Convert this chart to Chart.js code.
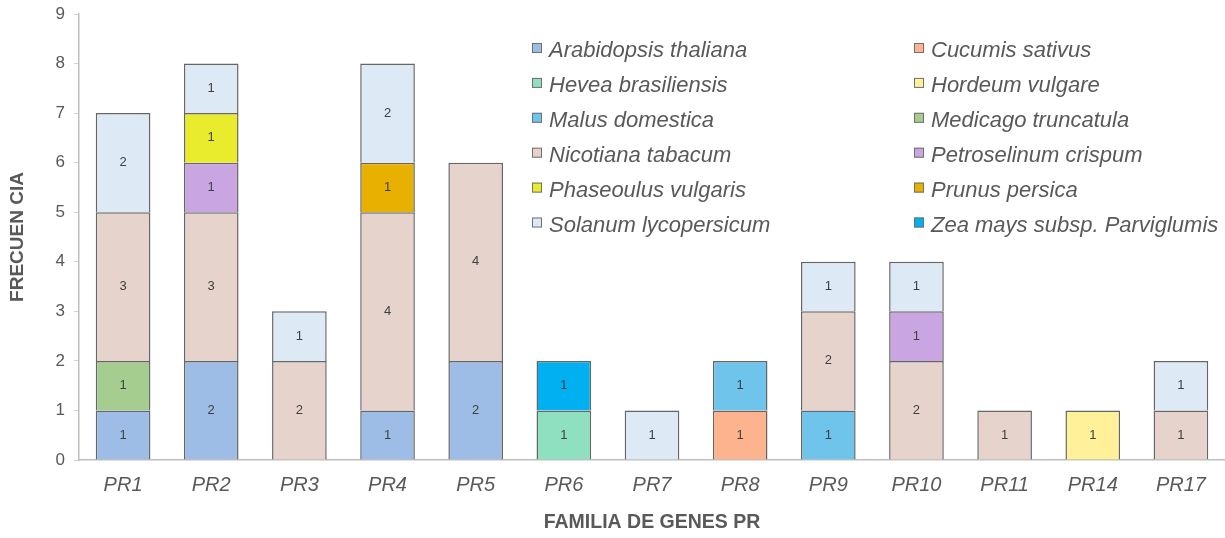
<!DOCTYPE html>
<html>
<head>
<meta charset="utf-8">
<script src="https://cdn.jsdelivr.net/npm/chart.js@4"></script>
<style>
  html, body { margin: 0; padding: 0; background: #fff; }
  #wrap { width: 1225px; height: 538px; position: relative; }
</style>
</head>
<body>
<div id="wrap"><canvas id="graph"></canvas></div>
<script>
// familias PR (eje x)
var familias = ["PR1", "PR2", "PR3", "PR4", "PR5", "PR6", "PR7", "PR8", "PR9", "PR10", "PR11", "PR14", "PR17"];
var ticksY = [0, 1, 2, 3, 4, 5, 6, 7, 8, 9];

// especies, en orden de apilado (de abajo hacia arriba)
var especies = [
  "Arabidopsis thaliana", "Cucumis sativus", "Hevea brasiliensis", "Hordeum vulgare",
  "Malus domestica", "Medicago truncatula", "Nicotiana tabacum", "Petroselinum crispum",
  "Phaseoulus vulgaris", "Prunus persica", "Solanum lycopersicum", "Zea mays subsp. Parviglumis"
];
var colores = [
  "#9dbde6", "#fdb38e", "#8fe0c0", "#fff09a",
  "#6ec4ea", "#a5cd8f", "#e6d3cc", "#c9a6e2",
  "#e9ec2c", "#e8b000", "#dde9f5", "#00b0f0"
];

// frecuencias por especie (null = no aparece)
var arabidopsis  = [1, 2, null, 1, 2, null, null, null, null, null, null, null, null];
var cucumis      = [null, null, null, null, null, null, null, 1, null, null, null, null, null];
var hevea        = [null, null, null, null, null, 1, null, null, null, null, null, null, null];
var hordeum      = [null, null, null, null, null, null, null, null, null, null, null, 1, null];
var malus        = [null, null, null, null, null, null, null, 1, 1, null, null, null, null];
var medicago     = [1, null, null, null, null, null, null, null, null, null, null, null, null];
var nicotiana    = [3, 3, 2, 4, 4, null, null, null, 2, 2, 1, null, 1];
var petroselinum = [null, 1, null, null, null, null, null, null, null, 1, null, null, null];
var phaseolus    = [null, 1, null, null, null, null, null, null, null, null, null, null, null];
var prunus       = [null, null, null, 1, null, null, null, null, null, null, null, null, null];
var solanum      = [2, 1, 1, 2, null, null, 1, null, 1, 1, null, null, 1];
var zea          = [null, null, null, null, null, 1, null, null, null, null, null, null, null];

var valores = [arabidopsis, cucumis, hevea, hordeum, malus, medicago, nicotiana,
               petroselinum, phaseolus, prunus, solanum, zea];

var gris = "#595959";

// etiquetas de valor dentro de cada segmento
var etiquetas = {
  id: "etiquetas",
  afterDatasetsDraw: function(chart) {
    var ctx = chart.ctx;
    ctx.save();
    ctx.font = "13px 'Liberation Sans'";
    ctx.fillStyle = "#404040";
    ctx.textAlign = "center";
    ctx.textBaseline = "middle";
    chart.data.datasets.forEach(function(ds, i) {
      chart.getDatasetMeta(i).data.forEach(function(bar, j) {
        var v = ds.data[j];
        if (v == null) return;
        ctx.fillText(String(v), bar.x, (bar.y + bar.base) / 2);
      });
    });
    ctx.restore();
  }
};

// leyenda en dos columnas (orden por filas)
var leyenda = {
  id: "leyenda",
  afterDraw: function(chart) {
    var ctx = chart.ctx;
    ctx.save();
    ctx.font = "italic 22px 'Liberation Sans'";
    ctx.textBaseline = "middle";
    ctx.textAlign = "left";
    especies.forEach(function(nombre, i) {
      var col = i % 2;
      var fila = Math.floor(i / 2);
      var x = col === 0 ? 532 : 914;
      var y = 50 + fila * 34.9;
      ctx.fillStyle = colores[i];
      ctx.fillRect(x, y - 7, 10, 10);
      ctx.strokeStyle = "#707070";
      ctx.lineWidth = 1;
      ctx.strokeRect(x + 0.5, y - 6.5, 9, 9);
      ctx.fillStyle = gris;
      ctx.fillText(nombre, x + 17, y + 1);
    });
    ctx.restore();
  }
};

var datasets = especies.map(function(nombre, i) {
  return {
    label: nombre,
    data: valores[i],
    backgroundColor: colores[i],
    borderColor: "#666666",
    borderWidth: 1.5,
    barPercentage: 0.62,
    categoryPercentage: 1
  };
});

var grafico = document.getElementById("graph").getContext("2d");
var chart = new Chart(grafico, {
  type: "bar",
  data: { labels: familias, datasets: datasets },
  options: {
    responsive: true,
    maintainAspectRatio: false,
    animation: false,
    layout: { padding: { top: 14, right: 0, left: 0, bottom: 0 } },
    plugins: {
      legend: { display: false },
      tooltip: { enabled: false }
    },
    scales: {
      x: {
        stacked: true,
        grid: { display: false, drawTicks: false },
        border: { color: "#bfbfbf", width: 1.5 },
        ticks: { color: gris, font: { family: "'Liberation Sans'", size: 20, style: "italic" }, padding: 13 },
        title: {
          display: true,
          text: "FAMILIA DE GENES PR",
          color: gris,
          font: { family: "'Liberation Sans'", size: 19.5, weight: "bold" },
          padding: { top: 0, bottom: 4 }
        },
        afterFit: function(scale) { scale.height = 78; }
      },
      y: {
        stacked: true,
        min: 0,
        max: 9,
        afterBuildTicks: function(scale) {
          scale.ticks = ticksY.map(function(v) { return { value: v }; });
        },
        grid: { display: true, drawOnChartArea: false, drawTicks: true, tickLength: 5, color: "#d0d0d0" },
        border: { color: "#bfbfbf", width: 1.5 },
        ticks: { color: gris, font: { family: "'Liberation Sans'", size: 17 }, padding: 9 },
        title: {
          display: true,
          text: "FRECUEN CIA",
          color: gris,
          font: { family: "'Liberation Sans'", size: 19, weight: "bold" },
          padding: { top: 6, bottom: 0 }
        },
        afterFit: function(scale) {
          scale.width = 79;
          scale.paddingTop = 0;
          scale.paddingBottom = 0;
        }
      }
    }
  },
  plugins: [etiquetas, leyenda]
});
</script>
</body>
</html>
